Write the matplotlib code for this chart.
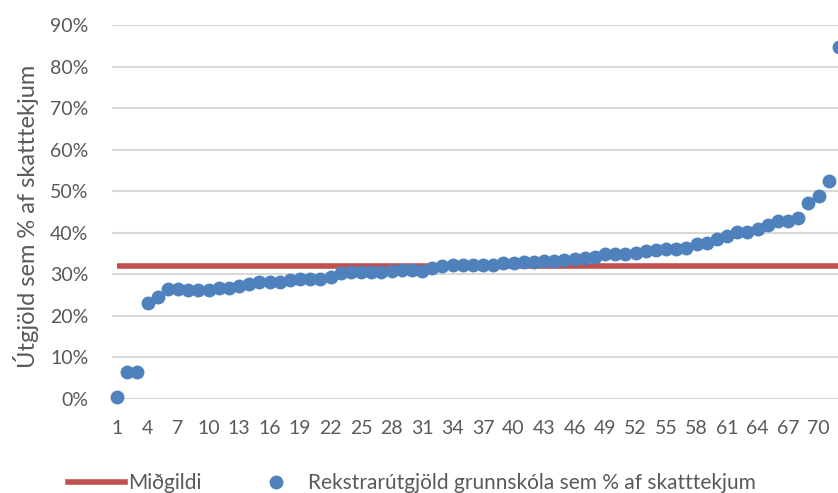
import matplotlib
matplotlib.use("Agg")
import matplotlib.pyplot as plt
from matplotlib.lines import Line2D
from matplotlib.ticker import PercentFormatter

plt.rcParams['font.family'] = ['Lato', 'DejaVu Sans']

# Data (values in %)
values = [0.5, 6.5, 6.5, 23.0, 24.5, 26.5, 26.5, 26.3, 26.3, 26.3,
          26.7, 26.7, 27.2, 27.7, 28.1, 28.1, 28.1, 28.6, 28.8, 28.8,
          28.8, 29.3, 30.3, 30.5, 30.5, 30.5, 30.5, 30.8, 31.0, 31.0,
          30.8, 31.5, 32.0, 32.2, 32.2, 32.3, 32.3, 32.3, 32.7, 32.7,
          33.0, 33.0, 33.2, 33.2, 33.4, 33.7, 34.0, 34.2, 34.9, 34.9,
          34.9, 35.1, 35.6, 35.8, 36.0, 36.0, 36.3, 37.3, 37.5, 38.5,
          39.2, 40.1, 40.1, 40.9, 41.8, 42.8, 42.8, 43.5, 47.1, 48.8,
          52.4, 84.6]
median_value = 32.0
x = list(range(1, len(values) + 1))
x_ticks = list(range(1, 72, 3))
y_ticks = list(range(0, 91, 10))

series_label = "Rekstrarútgjöld grunnskóla sem % af skatttekjum"
median_label = "Miðgildi"
y_label = "Útgjöld sem % af skatttekjum"

TEXT = '#595959'
W, H = 838, 493
fig = plt.figure(figsize=(W / 100, H / 100), dpi=100)
left_px, right_px, top_px, bottom_px = 112, 844, 25, 399
ax = fig.add_axes([left_px / W, 1 - bottom_px / H,
                   (right_px - left_px) / W, (bottom_px - top_px) / H])

ax.set_xlim(0.5, 72.5)
ax.set_ylim(0, 90)
ax.set_yticks(y_ticks)
ax.set_xticks(x_ticks)
ax.yaxis.set_major_formatter(PercentFormatter(decimals=0))
ax.grid(axis='y', color='#D9D9D9', linewidth=1.5)
ax.set_axisbelow(True)
for s in ax.spines.values():
    s.set_visible(False)
ax.tick_params(length=0, colors=TEXT, labelsize=14)
ax.tick_params(axis='y', pad=17)
ax.tick_params(axis='x', pad=15)

ax.plot([1, 72.5], [median_value, median_value], color='#C0504D',
        linewidth=4, solid_capstyle='butt', zorder=2)
ax.scatter(x, values, s=100, color='#4F81BD', zorder=3, clip_on=False,
           linewidths=0)

fig.text(26 / W, 1 - 216 / H, y_label, rotation=90, ha='center',
         va='center', fontsize=17, color=TEXT)

handles = [Line2D([], [], color='#C0504D', linewidth=4),
           Line2D([], [], color='#4F81BD', marker='o', linestyle='none',
                  markersize=10, markeredgewidth=0)]
fig.legend(handles, [median_label, series_label], loc='center left',
           bbox_to_anchor=(68 / W, 10 / H), ncol=2, frameon=False,
           fontsize=15, labelcolor=TEXT, handlelength=2.74,
           handletextpad=0.15, columnspacing=2.2, borderpad=0,
           borderaxespad=0)

fig.savefig("out.png", dpi=100)
